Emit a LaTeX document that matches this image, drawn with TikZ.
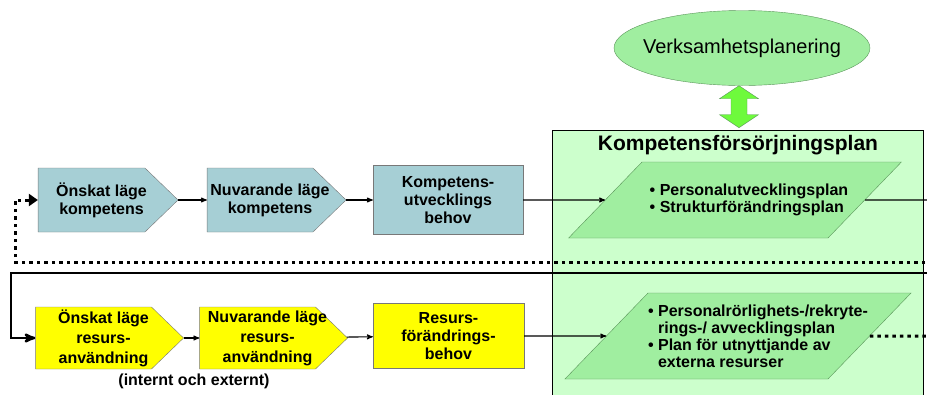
\documentclass[tikz,border=0pt]{standalone}
\usepackage{fontspec}
\setmainfont{Liberation Sans}
\usetikzlibrary{arrows,arrows.meta,shapes.symbols,shapes.geometric}
\definecolor{edge_gray}{RGB}{120,120,120}
\definecolor{node_blue}{RGB}{166,207,213}
\definecolor{node_yellow}{RGB}{255,255,0}
\definecolor{panel_green}{RGB}{204,255,204}
\definecolor{node_green}{RGB}{160,238,160}
\definecolor{edge_green}{RGB}{90,150,90}
\definecolor{arrow_green}{RGB}{110,250,60}

\begin{document}
\begin{tikzpicture}[x=1pt,y=-1pt,>=stealth',line width=1.1pt]
    \tikzstyle{box}=[draw=edge_gray, thin, inner sep=0pt, align=center, text=black, font=\fontsize{16}{18}\bfseries\selectfont]
    \tikzstyle{sig}=[style=box, signal, signal to=east, signal pointer angle=88]
    \tikzstyle{txt}=[align=center, xshift=10pt, font=\fontsize{16}{18}\bfseries\selectfont]
    \tikzstyle{bl}=[fill=node_blue]
    \tikzstyle{yl}=[fill=node_yellow]
    \tikzstyle{plan}=[draw=edge_green, thin, fill=node_green, trapezium, trapezium left angle=46, trapezium right angle=134, inner sep=0pt]
    \tikzstyle{ptxt}=[align=left, font=\fontsize{16}{17}\bfseries\selectfont]
    \tikzstyle{back}=[line width=2.5pt]
    \tikzstyle{dotline}=[line width=3pt, dash pattern=on 3.5pt off 4pt]

    \useasboundingbox (0,0) rectangle (927,394);

    \node[draw=black, thin, fill=panel_green, inner sep=0pt, minimum width=371, minimum height=270] (ksp) at (737.5,265) {};
    \node[font=\fontsize{21}{24}\bfseries\selectfont] (kspt) at (738,145) {Kompetensförsörjningsplan};
    \node[ellipse, draw=edge_green, thin, fill=node_green, inner xsep=-9pt, inner ysep=0pt, minimum width=256, minimum height=75, font=\fontsize{20}{24}\selectfont] (vp) at (742,48) {Verksamhetsplanering};
    % dubbelpil
    \draw[thin, draw=edge_green, fill=arrow_green] ([xshift=-3pt]vp.south) -- ++(19.5,13) -- ++(-11.5,0) -- ++(0,16) -- ++(11.5,0)
        -- ++(-19.5,13) -- ++(-19.5,-13) -- ++(11.5,0) -- ++(0,-16) -- ++(-11.5,0) -- cycle;

    % kompetens
    \node[sig, bl, minimum width=140, minimum height=64, label={[txt]center:Önskat läge\\kompetens}] (ok1) at (91.5,200) {};
    \node[sig, bl, minimum width=139, minimum height=64, label={[txt]center:Nuvarande läge\\kompetens}] (nk1) at (260,200) {};
    \node[box, bl, minimum width=150, minimum height=69] (kb) at (448,200) {Kompetens-\\utvecklings\\behov};
    \node[plan, label={[ptxt, xshift=14pt]center:\textbullet\ Personalutvecklingsplan\\\textbullet\ Strukturförändringsplan}]
        (p1) at (735,200) {\phantom{\rule{186pt}{76pt}}};

    % resurser
    \node[sig, yl, minimum width=148, minimum height=62, label={[txt, font=\fontsize{16}{20}\bfseries\selectfont]center:Önskat läge\\resurs-\\användning}] (ok2) at (93.5,338) {};
    \node[sig, yl, minimum width=148, minimum height=62, label={[txt, font=\fontsize{16}{20}\bfseries\selectfont]center:Nuvarande läge\\resurs-\\användning}] (nk2) at (257.5,338) {};
    \node[box, yl, minimum width=151, minimum height=65] (rb) at (448.5,336) {Resurs-\\förändrings-\\behov};
    \node[font=\fontsize{16}{18}\bfseries\selectfont] (ie) at (194,381) {(internt och externt)};
    \node[plan, label={[ptxt, xshift=20pt]center:\textbullet\ Personalrörlighets-/rekryte-\\\hphantom{\textbullet\ }rings-/ avvecklingsplan\\\textbullet\ Plan för utnyttjande av\\\hphantom{\textbullet\ }externa resurser}]
        (p2) at (738,336) {\phantom{\rule{180pt}{86pt}}};

    \coordinate (e1) at (940,200);
    \coordinate (e2) at (940,336);
    \coordinate (r1) at (940,273);
    \coordinate (l1) at (11,273);
    \coordinate (r2) at (940,262);
    \coordinate (l2) at (15,262);

    \path[->]
     (ok1) edge (nk1)
     (nk1) edge (kb)
     (kb) edge (p1)
     (ok2) edge (nk2)
     (nk2) edge (rb)
     (rb) edge (p2)
     ;
    \draw (p1) -- (e1);
    \draw[dotline] (p2) -- (e2);
    \draw[back, ->] (r1) -- (l1) |- (ok2);
    \draw[dotline, -{Triangle[length=9pt,width=12pt]}] (r2) -- (l2) |- (ok1);
\end{tikzpicture}
\end{document}
